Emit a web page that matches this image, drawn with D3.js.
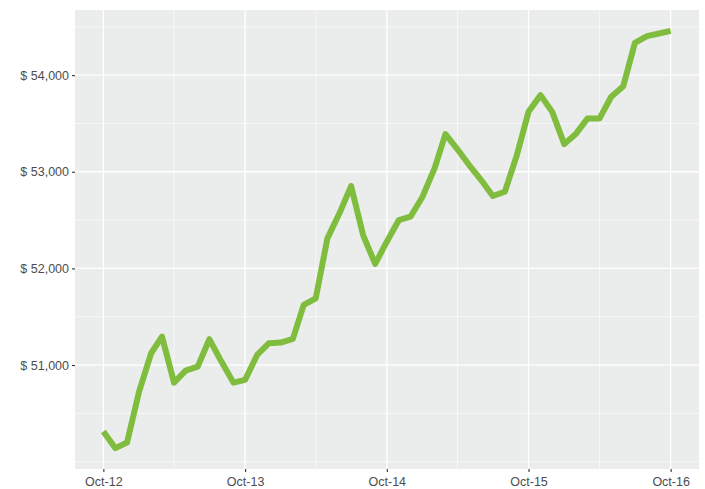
<!DOCTYPE html>
<html>
<head>
<meta charset="utf-8">
<script src="https://cdn.jsdelivr.net/npm/d3@7"></script>
<style>
  body { margin: 0; background: #fff; }
  text { font-family: "Liberation Sans", Arial, sans-serif; }
</style>
</head>
<body>
<div id="chart"></div>
<script>
// monthly values, Oct-12 .. Oct-16
const values = [
  50312, 50140, 50198, 50725, 51122, 51294, 50818, 50942, 50984, 51267, 51036, 50818,
  50846, 51104, 51225, 51232, 51270, 51622, 51691, 52311, 52570, 52852, 52345, 52046,
  52276, 52500, 52535, 52742, 53035, 53390, 53232, 53069, 52914, 52749, 52793, 53173,
  53620, 53793, 53620, 53286, 53397, 53552, 53552, 53776, 53886, 54334, 54403, 54431,
  54458
];
const months = d3.timeMonth.range(new Date(2012, 9, 1), new Date(2016, 10, 1));
const xTicks = [new Date(2012, 9, 1), new Date(2013, 9, 1), new Date(2014, 9, 1), new Date(2015, 9, 1), new Date(2016, 9, 1)];
const xMinor = [new Date(2013, 3, 1), new Date(2014, 3, 1), new Date(2015, 3, 1), new Date(2016, 3, 1)];
const yTicks = [51000, 52000, 53000, 54000];
const yMinor = [50000, 50500, 51500, 52500, 53500, 54500];

const width = 705, height = 489;
const margin = {top: 10, right: 6, bottom: 20, left: 75};
const w = width - margin.left - margin.right,
    h = height - margin.top - margin.bottom;

const data = months.map((d, i) => ({date: d, value: values[i]}));

// ggplot-style 5% expansion
const xExt = d3.extent(months);
const xPad = (xExt[1] - xExt[0]) * 0.05;
const x = d3.scaleTime()
    .domain([new Date(+xExt[0] - xPad), new Date(+xExt[1] + xPad)])
    .range([0, w]);

const yExt = d3.extent(values);
const yPad = (yExt[1] - yExt[0]) * 0.05;
const y = d3.scaleLinear()
    .domain([yExt[0] - yPad, yExt[1] + yPad])
    .range([h, 0]);

const svg = d3.select("#chart").append("svg")
    .attr("width", width)
    .attr("height", height)
    .append("g")
    .attr("transform", "translate(" + margin.left + "," + margin.top + ")");

svg.append("rect")
    .attr("width", w)
    .attr("height", h)
    .attr("fill", "#ebecec");

// minor grid
svg.append("g").selectAll("line").data(yMinor).join("line")
    .attr("x1", 0).attr("x2", w)
    .attr("y1", d => y(d)).attr("y2", d => y(d))
    .attr("stroke", "#fff").attr("stroke-width", 0.6);
svg.append("g").selectAll("line").data(xMinor).join("line")
    .attr("y1", 0).attr("y2", h)
    .attr("x1", d => x(d)).attr("x2", d => x(d))
    .attr("stroke", "#fff").attr("stroke-width", 0.6);

// major grid
svg.append("g").selectAll("line").data(yTicks).join("line")
    .attr("x1", 0).attr("x2", w)
    .attr("y1", d => y(d)).attr("y2", d => y(d))
    .attr("stroke", "#fff").attr("stroke-width", 1.3);
svg.append("g").selectAll("line").data(xTicks).join("line")
    .attr("y1", 0).attr("y2", h)
    .attr("x1", d => x(d)).attr("x2", d => x(d))
    .attr("stroke", "#fff").attr("stroke-width", 1.3);

// the line
const line = d3.line()
    .x(d => x(d.date))
    .y(d => y(d.value));

svg.append("path")
    .datum(data)
    .attr("fill", "none")
    .attr("stroke", "#80bd3f")
    .attr("stroke-width", 6)
    .attr("stroke-linejoin", "round")
    .attr("d", line);

// axes
const fmt = d3.format(",");
const yAxis = svg.append("g")
    .call(d3.axisLeft(y)
        .tickValues(yTicks)
        .tickSize(3)
        .tickPadding(3)
        .tickFormat(d => "$ " + fmt(d)));
const xAxis = svg.append("g")
    .attr("transform", "translate(0," + h + ")")
    .call(d3.axisBottom(x)
        .tickValues(xTicks)
        .tickSize(3)
        .tickPadding(5)
        .tickFormat(d3.timeFormat("%b-%y")));

[yAxis, xAxis].forEach(a => {
    a.select(".domain").remove();
    a.selectAll(".tick line").attr("stroke", "#333").attr("stroke-width", 1.1);
    a.selectAll("text")
        .attr("fill", "#4d4d4d")
        .style("font-size", "12.5px");
});
</script>
</body>
</html>
